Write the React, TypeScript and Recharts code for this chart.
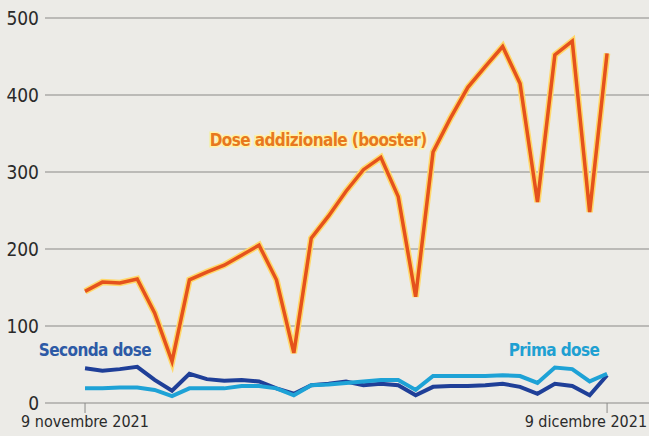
import { LineChart, Line, XAxis, YAxis, CartesianGrid, ReferenceDot } from "recharts";

// giorni dal 9 novembre 2021 (0) al 9 dicembre 2021 (30)
const days = [0, 1, 2, 3, 4, 5, 6, 7, 8, 9, 10, 11, 12, 13, 14, 15, 16, 17, 18, 19, 20, 21, 22, 23, 24, 25, 26, 27, 28, 29, 30];

const booster = [145, 157, 156, 161, 117, 54, 160, 170, 179, 192, 205, 160, 65, 214, 243, 275, 303, 319, 268, 138, 326, 370, 410, 437, 463, 415, 261, 452, 470, 248, 454];
const seconda = [45, 42, 44, 47, 30, 16, 38, 31, 29, 30, 28, 19, 12, 23, 25, 28, 23, 25, 23, 10, 21, 22, 22, 23, 25, 21, 12, 25, 22, 10, 36];
const prima = [19, 19, 20, 20, 17, 9, 19, 19, 19, 22, 22, 19, 10, 23, 24, 26, 28, 30, 30, 17, 35, 35, 35, 35, 36, 35, 26, 46, 44, 28, 38];

const yTicks = [0, 100, 200, 300, 400, 500];
const xTicks = [0, 30];
const xTickLabels: Record<number, string> = { 0: "9 novembre 2021", 30: "9 dicembre 2021" };

const data = days.map((d, i) => ({
    day: d,
    booster: booster[i],
    seconda: seconda[i],
    prima: prima[i],
}));

const FONT = "'DejaVu Sans Condensed', 'DejaVu Sans', sans-serif";

function makeLabel(text: string, color: string, halo?: string) {
    return (props: any) => {
        const vb = props.viewBox || {};
        const cx = (vb.x || 0) + (vb.width || 0) / 2;
        const cy = (vb.y || 0) + (vb.height || 0) / 2;
        return (
            <text
                x={cx}
                y={cy}
                textAnchor="middle"
                dominantBaseline="central"
                fontFamily={FONT}
                fontStretch="condensed"
                fontWeight="bold"
                fontSize={17}
                fill={color}
                stroke={halo || "none"}
                strokeWidth={halo ? 3 : 0}
                paintOrder="stroke"
                letterSpacing={-0.6}
            >
                {text}
            </text>
        );
    };
}

// the last date label sits flush with the right edge, like the print
function DateTick(props: any) {
    const { x, y, payload } = props;
    const last = payload.value === 30;
    return (
        <text
            x={last ? x + 40 : x}
            y={y + 2}
            textAnchor={last ? "end" : "middle"}
            dominantBaseline="hanging"
            fill="#2a2a2a"
            fontSize={16}
            fontFamily={FONT}
            fontStretch="condensed"
        >
            {xTickLabels[payload.value]}
        </text>
    );
}

export default function App() {
    return (
        <div style={{ position: "absolute", left: 0, top: 0, width: 649, height: 436, background: "#ecebe7" }}>
            <LineChart
                width={649}
                height={436}
                data={data}
                margin={{ top: 18, right: 0, left: 0, bottom: 0 }}
            >
                <CartesianGrid vertical={false} stroke="#8a8a88" strokeWidth={1.2} />

                <XAxis
                    dataKey="day"
                    type="number"
                    domain={[-2.3, 32.41]}
                    ticks={xTicks}
                    axisLine={false}
                    tickLine={{ stroke: "#8a8a88" }}
                    tickSize={10}
                    tickMargin={0}
                    height={33}
                    interval={0}
                    tick={<DateTick />}
                />
                <YAxis
                    domain={[0, 500]}
                    ticks={yTicks}
                    width={45}
                    axisLine={false}
                    tickLine={false}
                    tickSize={0}
                    tickMargin={6}
                    tick={{ fill: "#2a2a2a", fontSize: 19, fontFamily: FONT, fontStretch: "condensed" }}
                />

                <ReferenceDot x={13.4} y={341} r={0} label={makeLabel("Dose addizionale (booster)", "#e8781e", "#fff3a8")} />
                <ReferenceDot x={0.57} y={69} r={0} label={makeLabel("Seconda dose", "#2d5aa6")} />
                <ReferenceDot x={26.95} y={69} r={0} label={makeLabel("Prima dose", "#1fa0d2")} />

                {/* Seconda dose */}
                <Line
                    type="linear"
                    dataKey="seconda"
                    stroke="#1f3f98"
                    strokeWidth={4}
                    dot={false}
                    isAnimationActive={false}
                />
                {/* Prima dose */}
                <Line
                    type="linear"
                    dataKey="prima"
                    stroke="#1ea2d6"
                    strokeWidth={4}
                    dot={false}
                    isAnimationActive={false}
                />
                {/* alone giallo del booster */}
                <Line
                    type="linear"
                    dataKey="booster"
                    stroke="#ffd86a"
                    strokeWidth={6.5}
                    dot={false}
                    isAnimationActive={false}
                />
                <Line
                    type="linear"
                    dataKey="booster"
                    stroke="#e5521c"
                    strokeWidth={3.5}
                    dot={false}
                    isAnimationActive={false}
                />
            </LineChart>
        </div>
    );
}
